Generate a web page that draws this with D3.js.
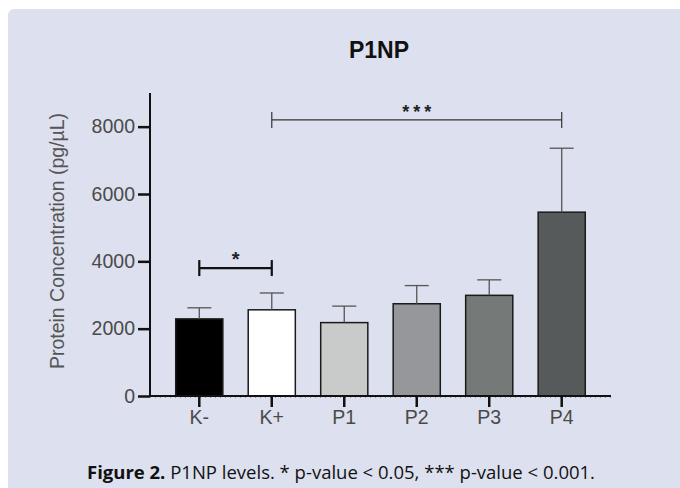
<!DOCTYPE html>
<html>
<head>
<meta charset="utf-8">
<script src="https://cdn.jsdelivr.net/npm/d3@7"></script>
<style>
  html, body { margin: 0; padding: 0; background: #fff; }
  svg { display: block; }
</style>
</head>
<body>
<svg id="chart" width="680" height="488"></svg>
<script>
var groups = ["K-", "K+", "P1", "P2", "P3", "P4"];
var means = [2290, 2560, 2180, 2740, 2990, 5460];
var errs = [330, 500, 490, 540, 460, 1900];
var fills = ["#000000", "#ffffff", "#c9cbca", "#96979a", "#757978", "#575a5a"];
var yTicks = [0, 2000, 4000, 6000, 8000];

var svg = d3.select("#chart");

// panel background
svg.append("rect")
   .attr("x", 8).attr("y", 9)
   .attr("width", 690).attr("height", 500)
   .attr("rx", 6)
   .attr("fill", "#dde0ee");

var pLeft = 150, pRight = 611, pTop = 93, pBottom = 396;

var y = d3.scaleLinear().domain([0, 9000]).range([pBottom, pTop]);
var x = d3.scaleBand().domain(groups).range([pLeft, pRight]).paddingInner(0.35).paddingOuter(0.355);
var cx = function(d) { return x(d) + x.bandwidth() / 2; };

// title
svg.append("text")
   .attr("x", 379).attr("y", 58)
   .attr("text-anchor", "middle")
   .attr("font-family", "Liberation Sans, Arial, sans-serif")
   .attr("font-weight", "bold")
   .attr("font-size", 23)
   .attr("fill", "#111")
   .text("P1NP");

// bars
svg.selectAll(".bar").data(groups).enter().append("rect")
   .attr("x", function(d) { return x(d); })
   .attr("y", function(d, i) { return y(means[i]); })
   .attr("width", x.bandwidth())
   .attr("height", function(d, i) { return pBottom - y(means[i]); })
   .attr("fill", function(d, i) { return fills[i]; })
   .attr("stroke", "#1a1a1a")
   .attr("stroke-width", 1.5);

// error bars
var eb = svg.selectAll(".err").data(groups).enter().append("g")
   .attr("stroke", "#555")
   .attr("stroke-width", 1.3);
eb.append("line")
  .attr("x1", cx).attr("x2", cx)
  .attr("y1", function(d, i) { return y(means[i]); })
  .attr("y2", function(d, i) { return y(means[i] + errs[i]); });
eb.append("line")
  .attr("x1", function(d) { return cx(d) - 12; })
  .attr("x2", function(d) { return cx(d) + 12; })
  .attr("y1", function(d, i) { return y(means[i] + errs[i]); })
  .attr("y2", function(d, i) { return y(means[i] + errs[i]); });

// y axis
var yAxis = svg.append("g")
   .attr("transform", "translate(" + pLeft + ",0)")
   .call(d3.axisLeft(y).tickValues(yTicks).tickFormat(d3.format("d")).tickSize(12).tickPadding(3));
yAxis.select(".domain").attr("d", "M0," + pTop + "V" + pBottom).attr("stroke", "#111").attr("stroke-width", 2);
yAxis.selectAll(".tick line").attr("stroke", "#111").attr("stroke-width", 2.5);
yAxis.selectAll(".tick text")
     .attr("font-family", "Liberation Sans, Arial, sans-serif")
     .attr("font-size", 19.5)
     .attr("fill", "#4a4a4a");

// faint dotted trace along the baseline
svg.append("line")
   .attr("x1", pLeft).attr("x2", pRight)
   .attr("y1", pBottom + 1.5).attr("y2", pBottom + 1.5)
   .attr("stroke", "#888").attr("stroke-width", 0.8)
   .attr("stroke-dasharray", "1,4");

// x axis
var xAxis = svg.append("g")
   .attr("transform", "translate(0," + pBottom + ")")
   .call(d3.axisBottom(x).tickSize(11).tickPadding(3));
xAxis.select(".domain").attr("d", "M" + pLeft + ",0H" + pRight).attr("stroke", "#111").attr("stroke-width", 2);
xAxis.selectAll(".tick line").attr("stroke", "#111").attr("stroke-width", 2.5);
xAxis.selectAll(".tick text")
     .attr("font-family", "Liberation Sans, Arial, sans-serif")
     .attr("font-size", 19.5)
     .attr("fill", "#4a4a4a");

// y label
svg.append("text")
   .attr("transform", "translate(64,241) rotate(-90)")
   .attr("text-anchor", "middle")
   .attr("font-family", "Liberation Sans, Arial, sans-serif")
   .attr("font-size", 19.5)
   .attr("fill", "#555")
   .text("Protein Concentration (pg/\u00b5L)");

// significance brackets
var sigs = [
  { a: "K-", b: "K+", level: 3800, label: "*", w: 2.2, c: "#111", fs: 20, ls: 0 },
  { a: "K+", b: "P4", level: 8200, label: "***", w: 1.2, c: "#333", fs: 18, ls: 4 }
];
sigs.forEach(function(s) {
  var x1 = cx(s.a), x2 = cx(s.b), yy = y(s.level);
  var g = svg.append("g").attr("stroke", s.c).attr("stroke-width", s.w);
  g.append("line").attr("x1", x1).attr("x2", x2).attr("y1", yy).attr("y2", yy);
  g.append("line").attr("x1", x1).attr("x2", x1).attr("y1", yy - 8).attr("y2", yy + 8);
  g.append("line").attr("x1", x2).attr("x2", x2).attr("y1", yy - 8).attr("y2", yy + 8);
  svg.append("text")
     .attr("x", (x1 + x2) / 2 + s.ls / 2).attr("y", yy - 2)
     .attr("text-anchor", "middle")
     .attr("font-family", "Liberation Sans, Arial, sans-serif")
     .attr("font-weight", "bold")
     .attr("font-size", s.fs)
     .attr("letter-spacing", s.ls)
     .attr("fill", "#222")
     .text(s.label);
});

// caption
var cap = svg.append("text")
   .attr("x", 341).attr("y", 479)
   .attr("text-anchor", "middle")
   .attr("font-family", "Open Sans, Noto Sans, sans-serif")
   .attr("font-size", 18.5)
   .attr("fill", "#111");
cap.append("tspan").attr("font-weight", "bold").text("Figure 2.");
cap.append("tspan").text(" P1NP levels. * p-value < 0.05, *** p-value < 0.001.");
</script>
</body>
</html>
